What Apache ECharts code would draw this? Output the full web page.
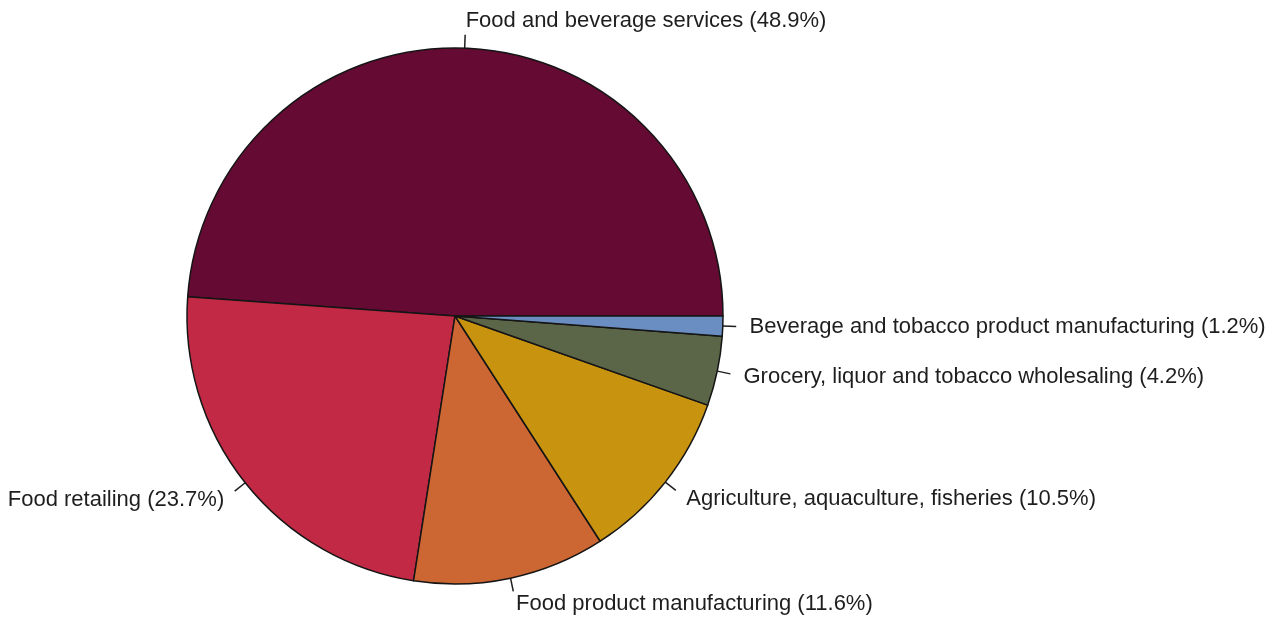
<!DOCTYPE html>
<html>
<head>
<meta charset="utf-8">
<script src="https://cdn.jsdelivr.net/npm/echarts@6/dist/echarts.min.js"></script>
<style>
  html, body { margin: 0; padding: 0; background: #ffffff; }
  #chart { width: 1281px; height: 619px; }
</style>
</head>
<body>
<div id="chart"></div>
<script>
// Share of food sector, by industry (%)
const categories = [
  'Food and beverage services',
  'Food retailing',
  'Food product manufacturing',
  'Agriculture, aquaculture, fisheries',
  'Grocery, liquor and tobacco wholesaling',
  'Beverage and tobacco product manufacturing'
];
const shares = [48.9, 23.7, 11.6, 10.5, 4.2, 1.2];
const sliceColors = ['#650a33', '#c22945', '#cc6633', '#c8930f', '#5b6548', '#6a8ec2'];

const CX = 455, CY = 316, R = 268;

const chart = echarts.init(document.getElementById('chart'), null, { renderer: 'canvas' });

chart.setOption({
  backgroundColor: '#ffffff',
  animation: false,
  series: [{
    type: 'pie',
    center: [CX, CY],
    radius: [0, R],
    startAngle: 0,
    clockwise: false,
    avoidLabelOverlap: false,
    minAngle: 0,
    data: categories.map((name, i) => ({
      name: name,
      value: shares[i],
      itemStyle: { color: sliceColors[i] }
    })),
    itemStyle: { borderColor: '#151515', borderWidth: 1.5 },
    emphasis: { disabled: true },
    label: {
      show: true,
      position: 'outside',
      formatter: p => p.name + ' (' + p.value.toFixed(1) + '%)',
      fontFamily: 'Liberation Sans, Arial, sans-serif',
      fontSize: 22,
      color: '#1e1e1e'
    },
    labelLine: {
      show: true,
      length: R * 0.05,
      length2: 0,
      smooth: false,
      lineStyle: { color: '#1e1e1e', width: 1.5 }
    },
    // Tick from r to 1.05r, text anchored at 1.1r along the slice's mid direction
    labelLayout: function (params) {
      const pts = params.labelLinePoints;
      if (!pts) return {};
      const p1 = pts[0], p2 = pts[1];
      const dx = p2[0] - p1[0], dy = p2[1] - p1[1];
      const tx = p1[0] + 2 * dx, ty = p1[1] + 2 * dy;
      return {
        x: tx,
        y: ty,
        align: (tx - CX) < 0 ? 'right' : 'left',
        verticalAlign: 'middle',
        labelLinePoints: [p1, p2, p2]
      };
    }
  }]
});
</script>
</body>
</html>
